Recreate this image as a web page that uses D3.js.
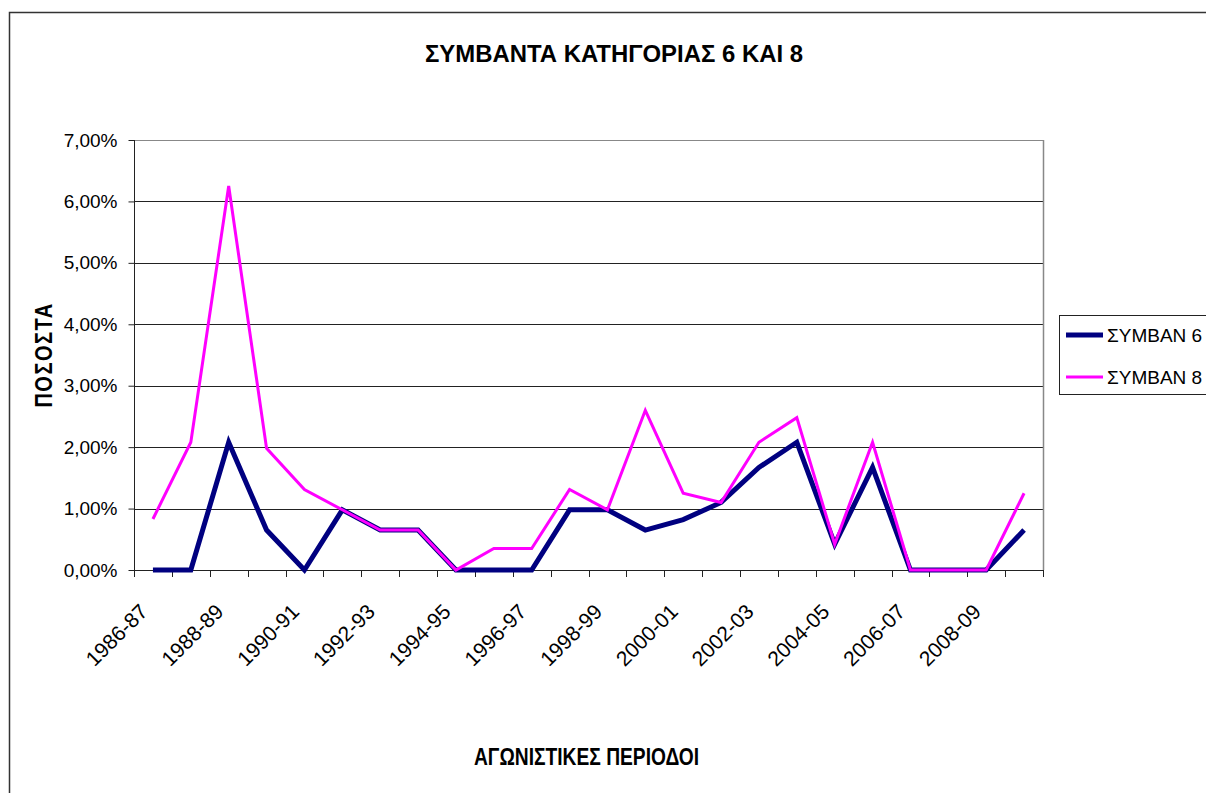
<!DOCTYPE html>
<html>
<head>
<meta charset="utf-8">
<script src="https://cdn.jsdelivr.net/npm/d3@7"></script>
<style>
  html,body{margin:0;padding:0;background:#fff;}
  svg{display:block;font-family:"Liberation Sans",Arial,sans-serif;}
</style>
</head>
<body>
<svg id="chart" width="1206" height="793"></svg>
<script>
const categories = ["1986-87","1987-88","1988-89","1989-90","1990-91","1991-92","1992-93","1993-94","1994-95","1995-96","1996-97","1997-98","1998-99","1999-00","2000-01","2001-02","2002-03","2003-04","2004-05","2005-06","2006-07","2007-08","2008-09","2009-10"];
const seriesNames = ["ΣΥΜΒΑΝ 6","ΣΥΜΒΑΝ 8"];
const symban6 = [0,0,2.08,0.65,0,0.98,0.65,0.65,0,0,0,0.98,0.98,0.65,0.82,1.1,1.67,2.08,0.42,1.67,0,0,0,0.65];
const symban8 = [0.83,2.08,6.25,1.98,1.31,0.98,0.65,0.65,0,0.35,0.35,1.31,0.98,2.6,1.25,1.1,2.08,2.48,0.42,2.08,0,0,0,1.25];
const yTicks = [0,1,2,3,4,5,6,7];
const titleText = "ΣΥΜΒΑΝΤΑ ΚΑΤΗΓΟΡΙΑΣ 6 ΚΑΙ 8";
const xTitleText = "ΑΓΩΝΙΣΤΙΚΕΣ ΠΕΡΙΟΔΟΙ";
const yTitleText = "ΠΟΣΟΣΤΑ";

const svg = d3.select("#chart");
const pLeft = 134, pRight = 1043, pTop = 140, pBottom = 570;

const x = d3.scaleBand().domain(categories).range([pLeft, pRight]).padding(0);
const y = d3.scaleLinear().domain([0, 7]).range([pBottom, pTop]);
const loc = d3.formatLocale({decimal: ",", thousands: ".", grouping: [3], currency: ["", "€"]});
const fmt = v => loc.format(".2f")(v) + "%";

// outer frame (only top/left visible)
svg.append("path").attr("d", "M9.5,1000 L9.5,12.5 L1300,12.5")
  .attr("fill", "none").attr("stroke", "#333").attr("stroke-width", 1.5);

// gridlines
svg.append("g").selectAll("line").data(yTicks.filter(d => d > 0)).join("line")
  .attr("x1", pLeft).attr("x2", pRight)
  .attr("y1", d => Math.round(y(d)) + 0.5).attr("y2", d => Math.round(y(d)) + 0.5)
  .attr("stroke", d => d === 7 ? "#888" : "#222").attr("stroke-width", 1);

// right border of plot
svg.append("line").attr("x1", pRight + 0.5).attr("x2", pRight + 0.5).attr("y1", pTop).attr("y2", pBottom)
  .attr("stroke", "#888").attr("stroke-width", 1.5);

// y axis
const yAxis = d3.axisLeft(y).tickValues(yTicks).tickFormat(fmt).tickSize(6).tickPadding(11);
const gy = svg.append("g").attr("transform", `translate(${pLeft + 0.5},0)`).call(yAxis);
gy.select(".domain").attr("stroke", "#222").attr("d", `M0,${pTop}V${pBottom}`);
gy.selectAll(".tick line").attr("stroke", "#222");
gy.selectAll(".tick text").attr("font-size", 19).attr("font-family", "Liberation Sans, Arial, sans-serif").attr("fill", "#000");

// x axis: ticks at category boundaries
const boundaries = categories.map(c => x(c)).concat([pRight]);
svg.append("line").attr("x1", pLeft).attr("x2", pRight).attr("y1", pBottom + 0.5).attr("y2", pBottom + 0.5)
  .attr("stroke", "#222");
svg.append("g").selectAll("line").data(boundaries).join("line")
  .attr("x1", d => Math.round(d) + 0.5).attr("x2", d => Math.round(d) + 0.5)
  .attr("y1", pBottom).attr("y2", pBottom + 7).attr("stroke", "#222");

// x labels every other category
svg.append("g").selectAll("text").data(categories.filter((c, i) => i % 2 === 0)).join("text")
  .attr("transform", d => `translate(${x(d) + x.bandwidth() / 2 - 4},${pBottom + 43}) rotate(-45)`)
  .attr("text-anchor", "end")
  .attr("font-size", 21)
  .attr("fill", "#000")
  .text(d => d);

// lines
const line = d3.line().x((d, i) => x(categories[i]) + x.bandwidth() / 2).y(d => y(d));
svg.append("path").datum(symban6).attr("d", line).attr("fill", "none")
  .attr("stroke", "#000080").attr("stroke-width", 5).attr("stroke-linejoin", "miter");
svg.append("path").datum(symban8).attr("d", line).attr("fill", "none")
  .attr("stroke", "#FF00FF").attr("stroke-width", 3).attr("stroke-linejoin", "miter");

// title
svg.append("text").attr("x", 614).attr("y", 62).attr("text-anchor", "middle")
  .attr("font-size", 23.5).attr("font-weight", "bold")
  .attr("textLength", 378).attr("lengthAdjust", "spacingAndGlyphs")
  .text(titleText);

// x title
svg.append("text").attr("x", 586.5).attr("y", 765).attr("text-anchor", "middle")
  .attr("font-size", 23).attr("font-weight", "bold")
  .attr("textLength", 225).attr("lengthAdjust", "spacingAndGlyphs")
  .text(xTitleText);

// y title (letter-spaced, tall glyphs)
svg.append("text").attr("transform", "translate(52,355) rotate(-90) scale(1,1.2)").attr("text-anchor", "middle")
  .attr("font-size", 20).attr("font-weight", "bold")
  .attr("letter-spacing", 1.5)
  .text(yTitleText);

// legend
const lg = svg.append("g");
lg.append("rect").attr("x", 1059.5).attr("y", 315.5).attr("width", 200).attr("height", 79)
  .attr("fill", "#fff").attr("stroke", "#222").attr("stroke-width", 1);
const legendColors = ["#000080", "#FF00FF"];
const legendWidths = [5, 3];
const legendY = [335, 377];
seriesNames.forEach((name, i) => {
  lg.append("line").attr("x1", 1066).attr("x2", 1103).attr("y1", legendY[i]).attr("y2", legendY[i])
    .attr("stroke", legendColors[i]).attr("stroke-width", legendWidths[i]);
  lg.append("text").attr("x", 1107).attr("y", legendY[i] + 6.5).attr("font-size", 19).attr("fill", "#000")
    .text(name);
});
</script>
</body>
</html>
